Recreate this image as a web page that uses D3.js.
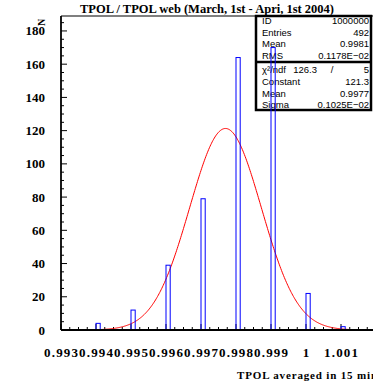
<!DOCTYPE html>
<html>
<head>
<meta charset="utf-8">
<script src="https://cdn.jsdelivr.net/npm/d3@7"></script>
<style>
  body { margin: 0; background: #fff; }
  svg { display: block; }
  .serif { font-family: "Liberation Serif", "DejaVu Serif", serif; font-weight: bold; }
  .stat { font-family: "Liberation Sans", "DejaVu Sans", sans-serif; font-size: 9.5px; }
</style>
</head>
<body>
<svg id="chart" width="373" height="384"></svg>
<script>
// histogram bins (lower edge) and counts
const binStarts = [0.994, 0.995, 0.996, 0.997, 0.998, 0.999, 1.000, 1.001];
const counts = [4, 12, 39, 79, 164, 170, 22, 2];
const binWidth = 0.00012;

// gaussian fit
const fitConstant = 121.3, fitMean = 0.9977, fitSigma = 0.001025;

const xTicks = [0.993, 0.994, 0.995, 0.996, 0.997, 0.998, 0.999, 1, 1.001];
const xTickLabels = ["0.993", "0.994", "0.995", "0.996", "0.997", "0.998", "0.999", "1", "1.001"];
const yTicks = [0, 20, 40, 60, 80, 100, 120, 140, 160, 180];

const statsTop = [["ID", "1000000"], ["Entries", "492"], ["Mean", "0.9981"], ["RMS", "0.1178E\u221202"]];
const statsFit = [["Constant", "121.3"], ["Mean", "0.9977"], ["Sigma", "0.1025E\u221202"]];

const svg = d3.select("#chart");
const plotLeft = 61, plotBottom = 330, plotTop = 16;

const x = d3.scaleLinear().domain([0.993, 1.003]).range([plotLeft, plotLeft + 350]);
const y = d3.scaleLinear().domain([0, 189]).range([plotBottom, plotTop]);

// title
svg.append("text").attr("class", "serif")
  .attr("x", 207).attr("y", 13).attr("text-anchor", "middle")
  .attr("font-size", 12.5).attr("textLength", 254)
  .text("TPOL / TPOL web (March, 1st - Apri, 1st 2004)");

// frame
svg.append("line").attr("x1", plotLeft).attr("x2", 373).attr("y1", plotTop).attr("y2", plotTop)
  .attr("stroke", "black").attr("stroke-width", 1.2);
svg.append("line").attr("x1", plotLeft).attr("x2", plotLeft).attr("y1", plotTop).attr("y2", plotBottom)
  .attr("stroke", "black").attr("stroke-width", 1.8);

// minor + major ticks (inward)
const tickG = svg.append("g").attr("stroke", "black");
d3.range(0, 190, 5).forEach(v => {
  const major = v % 20 === 0;
  tickG.append("line").attr("x1", plotLeft).attr("x2", plotLeft + (major ? 6 : 3))
    .attr("y1", y(v)).attr("y2", y(v)).attr("stroke-width", 1);
});
d3.range(0, 41).forEach(i => {
  const v = 0.993 + i * 0.00025;
  const major = i % 4 === 0;
  tickG.append("line").attr("x1", x(v)).attr("x2", x(v))
    .attr("y1", plotBottom).attr("y2", plotBottom - (major ? 6 : 3)).attr("stroke-width", 1);
});

// y tick labels
svg.append("g").selectAll("text").data(yTicks).join("text")
  .attr("class", "serif").attr("font-size", 13)
  .attr("x", 45).attr("y", d => y(d) + 4.5).attr("text-anchor", "end")
  .text(d => d);

// x tick labels
svg.append("g").selectAll("text").data(xTicks).join("text")
  .attr("class", "serif").attr("font-size", 13)
  .attr("x", d => x(d)).attr("y", 357).attr("text-anchor", "middle")
  .attr("textLength", (d, i) => xTickLabels[i].length > 1 ? 34 : null)
  .text((d, i) => xTickLabels[i]);

// axis titles
svg.append("text").attr("class", "serif").attr("font-size", 11)
  .attr("x", 237).attr("y", 379).attr("textLength", 140).text("TPOL averaged in 15 min");
svg.append("text").attr("class", "serif").attr("font-size", 10)
  .attr("transform", "translate(45,26) rotate(-90)").text("N");

// stats box
const bx = 256, bw = 115;
const box = svg.append("g");
box.append("rect").attr("x", bx).attr("y", plotTop).attr("width", bw).attr("height", 94)
  .attr("fill", "white").attr("stroke", "black").attr("stroke-width", 2.5);
box.append("line").attr("x1", bx).attr("x2", bx + bw).attr("y1", 62).attr("y2", 62)
  .attr("stroke", "black").attr("stroke-width", 2.5);
statsTop.forEach((r, i) => {
  const yy = 24 + i * 11.6;
  box.append("text").attr("class", "stat").attr("x", bx + 6).attr("y", yy).text(r[0]);
  box.append("text").attr("class", "stat").attr("x", bx + bw - 2).attr("y", yy)
    .attr("text-anchor", "end").text(r[1]);
});
box.append("text").attr("class", "stat").attr("x", bx + 6).attr("y", 73).text("\u03C7\u00B2/ndf");
box.append("text").attr("class", "stat").attr("x", bx + 61).attr("y", 73).attr("text-anchor", "end").text("126.3");
box.append("text").attr("class", "stat").attr("x", bx + 76).attr("y", 73).attr("text-anchor", "middle").text("/");
box.append("text").attr("class", "stat").attr("x", bx + bw - 2).attr("y", 73).attr("text-anchor", "end").text("5");
statsFit.forEach((r, i) => {
  const yy = 85 + i * 11.6;
  box.append("text").attr("class", "stat").attr("x", bx + 6).attr("y", yy).text(r[0]);
  box.append("text").attr("class", "stat").attr("x", bx + bw - 2).attr("y", yy)
    .attr("text-anchor", "end").text(r[1]);
});

// gaussian curve
const gauss = v => fitConstant * Math.exp(-0.5 * Math.pow((v - fitMean) / fitSigma, 2));
const line = d3.line().x(d => x(d)).y(d => y(gauss(d)));
svg.append("path").datum(d3.range(0.993, 1.0025, 0.00002))
  .attr("d", line).attr("fill", "none").attr("stroke", "red").attr("stroke-width", 1);

// histogram bars
svg.append("g").selectAll("rect").data(binStarts).join("rect")
  .attr("x", d => x(d)).attr("y", (d, i) => y(counts[i]))
  .attr("width", d => x(d + binWidth) - x(d))
  .attr("height", (d, i) => plotBottom - y(counts[i]))
  .attr("fill", "none").attr("stroke", "blue").attr("stroke-width", 1);

// bottom axis line
svg.append("line").attr("x1", plotLeft).attr("x2", 373).attr("y1", plotBottom).attr("y2", plotBottom)
  .attr("stroke", "black").attr("stroke-width", 2);
</script>
</body>
</html>
